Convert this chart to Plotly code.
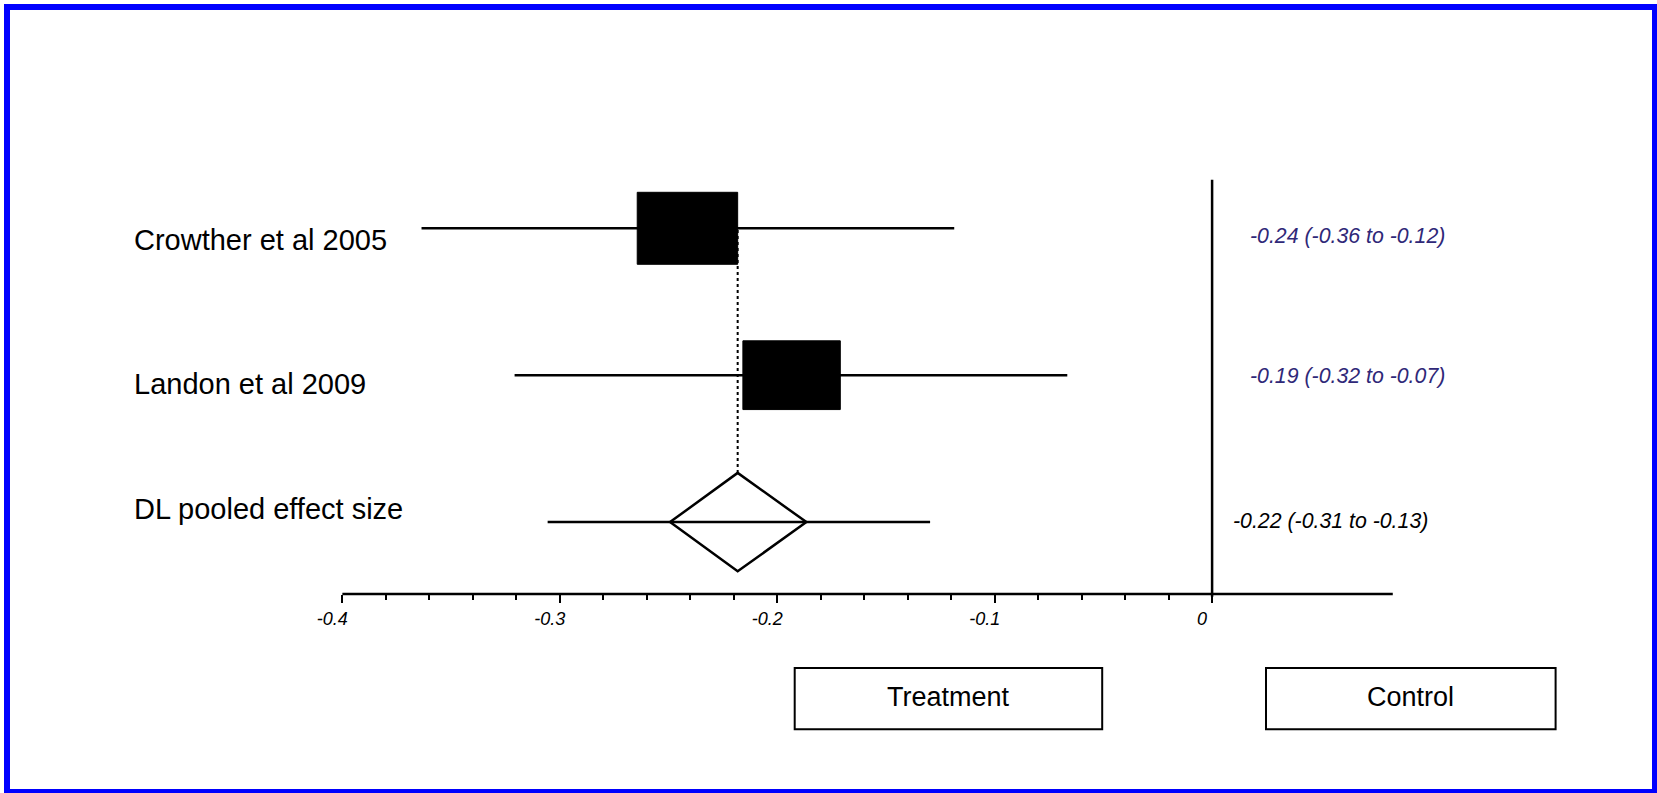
import plotly.graph_objects as go

# ---------------- data ----------------
studies = ["Crowther et al 2005", "Landon et al 2009", "DL pooled effect size"]
effect = [-0.2413, -0.1934, -0.2182]
ci_low = [-0.3636, -0.3208, -0.3056]
ci_high = [-0.1186, -0.0666, -0.1297]
est_text = ["-0.24 (-0.36 to -0.12)", "-0.19 (-0.32 to -0.07)", "-0.22 (-0.31 to -0.13)"]
box_half_w = [0.0231, 0.0224]      # study weight boxes (x units)
box_half_h = [0.245, 0.234]        # (row units)
diamond_low = -0.2493
diamond_high = -0.1866
diamond_half_h = 0.335
major_ticks = [-0.4, -0.3, -0.2, -0.1, 0]
major_labels = ["-0.4", "-0.3", "-0.2", "-0.1", "0"]
minor_ticks = [-0.38, -0.36, -0.34, -0.32, -0.28, -0.26, -0.24, -0.22,
               -0.18, -0.16, -0.14, -0.12, -0.08, -0.06, -0.04, -0.02]
groups = ["Treatment", "Control"]

rows = [3, 2, 1]
X_RANGE = [-0.55747, 0.20462]
Y_RANGE = [-0.8441, 4.5541]
AXIS_Y = 0.5112
AXIS_END = 0.0831
AXIS_POS = (AXIS_Y - Y_RANGE[0]) / (Y_RANGE[1] - Y_RANGE[0])
NAVY = "#2f2878"

fig = go.Figure()

# CI lines
for i in range(3):
    fig.add_trace(go.Scatter(x=[ci_low[i], ci_high[i]], y=[rows[i], rows[i]], mode="lines",
                             line=dict(color="black", width=2.5), hoverinfo="skip"))

# study boxes
for i in range(2):
    x0, x1 = effect[i] - box_half_w[i], effect[i] + box_half_w[i]
    y0, y1 = rows[i] - box_half_h[i], rows[i] + box_half_h[i]
    fig.add_trace(go.Scatter(x=[x0, x1, x1, x0, x0], y=[y0, y0, y1, y1, y0], mode="lines",
                             fill="toself", fillcolor="black",
                             line=dict(color="black", width=1), hoverinfo="skip"))

# pooled diamond
pr = rows[2]
fig.add_trace(go.Scatter(
    x=[diamond_low, effect[2], diamond_high, effect[2], diamond_low],
    y=[pr, pr + diamond_half_h, pr, pr - diamond_half_h, pr],
    mode="lines", line=dict(color="black", width=2.5), hoverinfo="skip"))

# dotted line from pooled estimate up
fig.add_trace(go.Scatter(x=[effect[2], effect[2]], y=[pr + diamond_half_h, rows[0]], mode="lines",
                         line=dict(color="black", width=2, dash="dot"), hoverinfo="skip"))

# axis line and zero line
fig.add_trace(go.Scatter(x=[major_ticks[0], AXIS_END], y=[AXIS_Y, AXIS_Y], mode="lines",
                         line=dict(color="black", width=2.5), hoverinfo="skip"))
fig.add_trace(go.Scatter(x=[0, 0], y=[AXIS_Y - 0.02, 3.331], mode="lines",
                         line=dict(color="black", width=2.5), hoverinfo="skip"))

annotations = []
label_shift = [-12, -9, 13]
for i in range(3):
    annotations.append(dict(x=-0.4968, y=rows[i], text=studies[i], showarrow=False,
                            xanchor="left", yanchor="middle", yshift=label_shift[i],
                            font=dict(family="Liberation Sans", size=29, color="black")))
est_x = [0.0165, 0.0165, 0.0088]
est_shift = [-8, -1, 1]
est_col = [NAVY, NAVY, "black"]
for i in range(3):
    annotations.append(dict(x=est_x[i], y=rows[i], text=est_text[i], showarrow=False,
                            xanchor="left", yanchor="middle", yshift=est_shift[i],
                            font=dict(family="Liberation Sans", size=21.3, color=est_col[i],
                                      style="italic")))

W, H = 1657, 793
box_px = [(794.7, 1102.2), (1266.0, 1555.6)]
by0, by1 = 1 - 729.2 / H, 1 - 667.9 / H
shapes = []
for (px0, px1), g in zip(box_px, groups):
    shapes.append(dict(type="rect", xref="paper", yref="paper", x0=px0 / W, x1=px1 / W,
                       y0=by0, y1=by1, line=dict(color="black", width=2)))
    annotations.append(dict(x=(px0 + px1) / 2 / W, y=(by0 + by1) / 2, xref="paper", yref="paper",
                            text=g, showarrow=False, xanchor="center", yanchor="middle",
                            yshift=2,
                            font=dict(family="Liberation Sans", size=27, color="black")))

# blue frame
shapes.append(dict(type="rect", xref="paper", yref="paper", x0=7 / W, x1=1655 / W,
                   y0=1 - 792 / H, y1=1 - 7 / H, line=dict(color="#0000ff", width=6)))

fig.update_layout(
    width=W, height=H, margin=dict(l=0, r=0, t=0, b=0),
    paper_bgcolor="white", plot_bgcolor="white", showlegend=False,
    shapes=shapes, annotations=annotations,
    xaxis=dict(range=X_RANGE, showgrid=False, zeroline=False, showline=False,
               anchor="free", position=AXIS_POS, ticks="outside",
               tickmode="array", tickvals=major_ticks, ticktext=major_labels,
               ticklen=8, tickwidth=2, tickcolor="black", ticklabelshift=-10,
               tickfont=dict(family="Liberation Sans", size=18, color="black", style="italic"),
               minor=dict(tickmode="array", tickvals=minor_ticks, ticks="outside",
                          ticklen=5, tickwidth=2, tickcolor="black", showgrid=False)),
    yaxis=dict(range=Y_RANGE, visible=False, showgrid=False, zeroline=False),
)

fig.write_html("out.html")
